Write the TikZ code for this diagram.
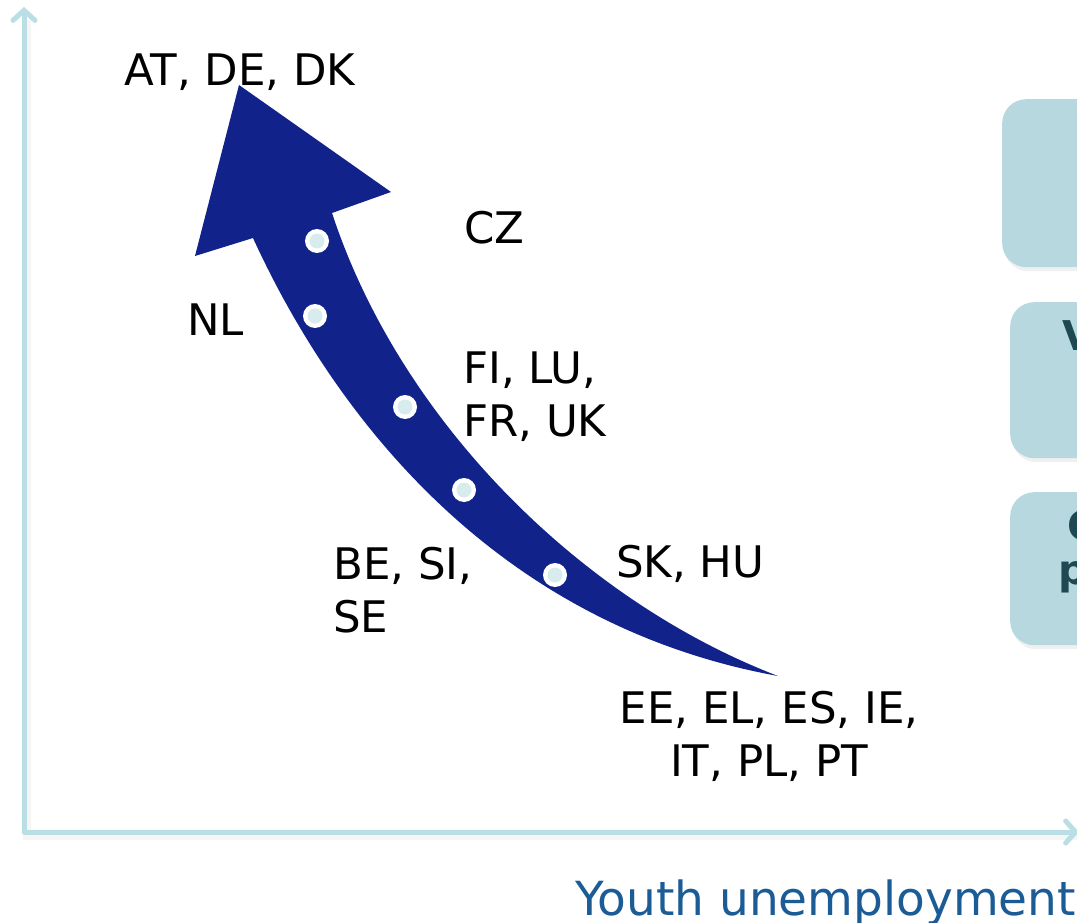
\documentclass[tikz,border=0pt]{standalone}
\usepackage{fontspec}
\setmainfont{DejaVu Sans}
\usetikzlibrary{arrows.meta}
\definecolor{axiscol}{RGB}{185,222,227}
\definecolor{navy}{RGB}{17,34,139}
\definecolor{dotfill}{RGB}{216,236,238}
\definecolor{boxcol}{RGB}{184,216,223}
\definecolor{boxtext}{RGB}{30,72,82}
\definecolor{labelblue}{RGB}{27,91,150}
\begin{document}
\begin{tikzpicture}[x=1pt,y=-1pt,
  lbl/.style={font=\fontsize{43.5}{53}\selectfont, inner sep=0pt, text=black},
  axisline/.style={draw=axiscol, line width=5pt, line cap=round, line join=round},
  axisshadow/.style={draw=black, opacity=0.04, line width=8pt},
  dotw/.style={circle, fill=white, minimum size=24pt, inner sep=0pt},
  boxst/.style={fill=boxcol, rounded corners=24pt, minimum width=130pt, inner sep=0pt, anchor=north west},
  boxshadow/.style={fill=black, opacity=0.06, rounded corners=24pt, minimum width=130pt, inner sep=0pt, anchor=north west},
  boxtxt/.style={font=\fontsize{41}{50}\selectfont\bfseries, text=boxtext, inner sep=0pt, anchor=base west}
]
\useasboundingbox (0,0) rectangle (1077,923);

% right boxes (cut by the picture edge)
\node[boxshadow, minimum height=168pt] at (1004,103) {};
\node[boxst, minimum height=168pt] (box1) at (1002,99) {};
\node[boxshadow, minimum height=156pt] at (1012,306) {};
\node[boxst, minimum height=156pt] (box2) at (1010,302) {};
\node[boxshadow, minimum height=153pt] at (1012,496) {};
\node[boxst, minimum height=153pt] (box3) at (1010,492) {};
\node[boxtxt] (v) at (1062,350) {V};
\node[boxtxt] (c) at (1067,540) {C};
\node[boxtxt] (p) at (1058,584) {p};

% axes
\coordinate (ytop) at (24,7);
\coordinate (origin) at (24,832);
\coordinate (xend) at (1079,832);
\draw[axisshadow] (27,20) -- (27,836) -- (1077,836);
\draw[axisline, {Straight Barb[length=10pt,width=22pt,line cap=round]}-{Straight Barb[length=10pt,width=22pt,line cap=round]}] (ytop) -- (origin) -- (xend);

% big curved arrow
\fill[navy] (239,85) -- (391,192) -- (332,213)
  .. controls (400,420) and (580,600) .. (778,676)
  .. controls (470,620) and (318,380) .. (253,238)
  -- (195,256) -- cycle;

% dots
\foreach \n/\px/\py in {d1/317/241, d2/315/316, d3/405/407, d4/464/490, d5/555/575}{
  \node[dotw] (\n) at (\px,\py) {};
  \fill[dotfill] (\n) circle[radius=7.5pt];
}

% labels
\node[lbl, anchor=base west] (atdedk) at (124,86) {AT, DE, DK};
\node[lbl, anchor=base west] (cz) at (464,243) {CZ};
\node[lbl, anchor=base west] (nl) at (187,335) {NL};
\node[lbl, anchor=north west, align=left] (filu) at (463,352) {FI, LU,\\FR, UK};
\node[lbl, anchor=north west, align=left] (besi) at (333,547) {BE, SI,\\SE};
\node[lbl, anchor=base west] (skhu) at (616,577) {SK, HU};
\node[lbl, anchor=north, align=center] (ee) at (769,691) {EE, EL, ES, IE,\\IT, PL, PT};

\node[anchor=base west, inner sep=0pt, font=\fontsize{47}{56}\selectfont, text=labelblue] (xlabel) at (575,915) {Youth unemployment};
\end{tikzpicture}
\end{document}
